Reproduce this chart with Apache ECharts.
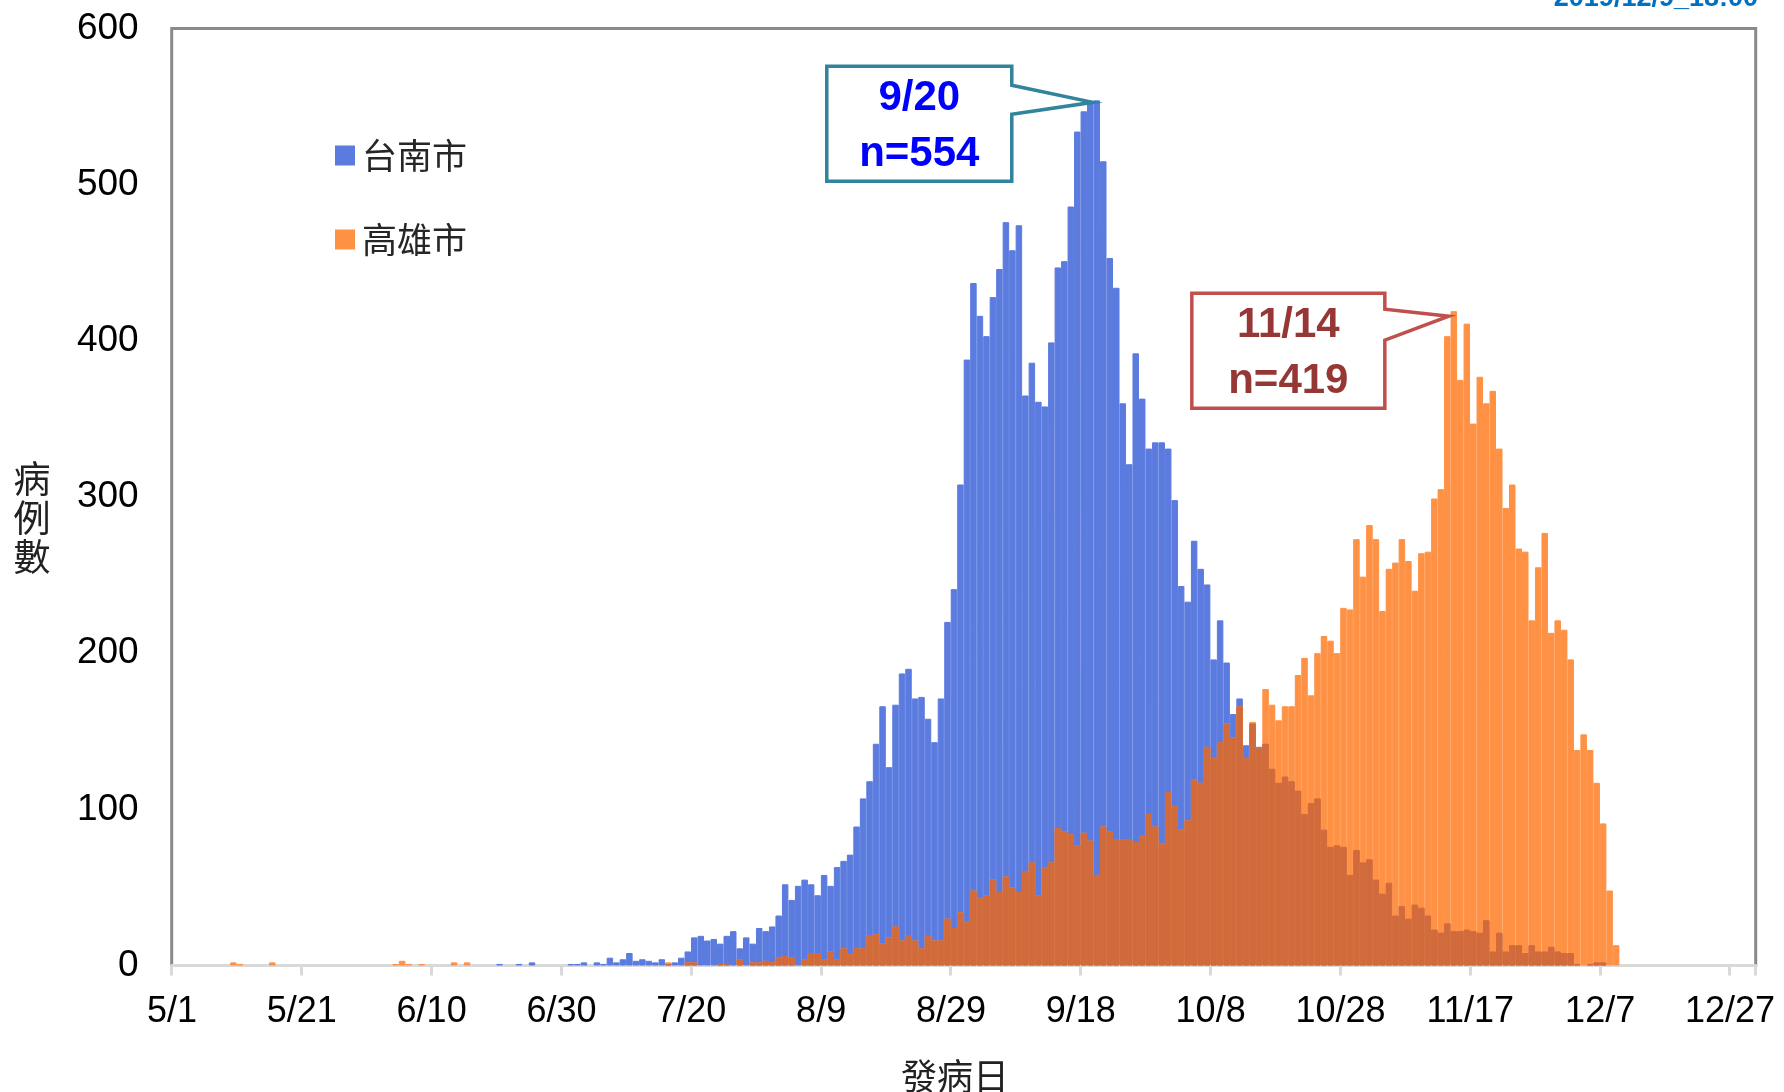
<!DOCTYPE html>
<html>
<head>
<meta charset="utf-8">
<script src="https://cdn.jsdelivr.net/npm/echarts@6/dist/echarts.min.js"></script>
<style>
html,body{margin:0;padding:0;background:#fff;}
#chart{width:1784px;height:1092px;}
</style>
</head>
<body>
<div id="chart"></div>
<script>
// ---- data ----
// axis runs day by day from 2019/5/1 to 2019/12/30
const axisStart = [2019, 5, 1];
const axisDays = 244;
const tickEvery = 20;
const seriesNames = ['台南市', '高雄市'];
const yAxisTitle = '病例數';
const xAxisTitle = '發病日';

// daily cases by onset date, starting 5/1
const tainan = [
  0,0,0,0,0,0,0,0,0,0,
  0,0,0,0,0,0,0,0,0,0,
  0,0,0,0,0,0,0,0,0,0,
  0,0,0,0,0,0,0,0,0,0,
  0,0,0,0,0,0,0,0,0,0,
  1,0,0,1,0,2,0,0,0,0,
  0,1,1,2,0,2,1,5,2,4,
  8,3,4,3,2,4,1,2,5,9,
  18,19,16,17,14,19,22,11,18,14,
  24,22,25,32,52,42,51,55,52,45,
  58,51,63,67,71,89,107,118,142,166,
  127,167,187,190,171,172,158,143,171,220,
  241,308,388,437,416,403,428,446,476,458,
  474,365,386,361,358,399,447,451,486,534,
  547,553,554,515,453,434,360,321,392,363,
  331,335,335,331,298,243,233,272,254,244,
  196,221,194,161,171,141,155,140,142,126,
  117,121,118,112,97,104,107,87,76,77,
  76,58,74,66,68,55,46,53,32,38,
  30,39,37,32,23,21,27,22,22,23,
  22,21,29,9,21,9,13,13,8,13,
  9,9,12,9,8,8,1,0,1,2,
  2,0,0
];
const kaohsiung = [
  0,0,0,0,0,0,0,0,0,2,
  1,0,0,0,0,2,0,0,0,0,
  0,0,0,0,0,0,0,0,0,0,
  0,0,0,0,1,3,1,0,1,0,
  0,0,0,2,0,2,0,0,0,0,
  0,0,0,0,0,0,0,0,0,0,
  0,0,0,0,0,0,0,0,0,0,
  0,0,0,0,0,0,2,0,0,2,
  2,0,0,0,1,1,0,4,0,2,
  2,3,2,5,6,5,0,4,8,8,
  4,9,4,11,8,11,11,19,20,14,
  18,25,16,19,16,11,19,16,16,30,
  24,34,28,48,43,45,55,47,57,50,
  47,60,66,45,63,66,88,86,84,77,
  85,80,58,89,86,81,81,81,79,83,
  97,89,78,111,102,87,93,119,117,140,
  133,143,155,146,166,133,156,139,177,167,
  157,166,166,186,197,173,200,211,208,200,
  229,228,273,249,282,273,227,254,258,273,
  259,240,264,265,299,305,403,419,375,411,
  347,377,360,368,331,293,308,267,265,221,
  255,277,213,221,215,196,138,148,138,117,
  91,48,13
];

// callouts (peak annotations)
const peakNotes = [
  {date: '9/20', series: 0, value: 554},
  {date: '11/14', series: 1, value: 419}
];
const stampText = '2019/12/9_18:00';

// ---- build categories ----
const categories = [];
for (let i = 0; i < axisDays; i++) {
  const d = new Date(axisStart[0], axisStart[1] - 1, axisStart[2] + i);
  categories.push((d.getMonth() + 1) + '/' + d.getDate());
}
const overlap = tainan.map((v, i) => Math.min(v, kaohsiung[i]));

const FONT = "'Liberation Sans', 'Noto Sans CJK TC', sans-serif";
const CJK = "'Noto Sans CJK TC', sans-serif";
const chart = echarts.init(document.getElementById('chart'), null, {renderer: 'canvas'});

function barSeries(name, data, color, z) {
  return {
    name: name, type: 'bar',
    // days without cases draw no bar at all
    data: data.map(v => (v > 0 ? v : null)),
    barWidth: '100%', barGap: '-100%', barCategoryGap: 0,
    itemStyle: {color: color, borderColor: color, borderWidth: 1},
    z: z
  };
}

const option = {
  animation: false,
  textStyle: {fontFamily: FONT},
  grid: {
    left: 171.7, right: 28.3, top: 28.5, bottom: 126.5,
    show: true, borderColor: '#8a8a8a', borderWidth: 3, backgroundColor: 'transparent'
  },
  legend: {
    data: seriesNames,
    orient: 'vertical',
    left: 330, top: 133,
    itemWidth: 18, itemHeight: 18, itemGap: 49,
    icon: 'rect',
    textStyle: {fontSize: 35, color: '#262626', fontFamily: CJK, padding: [0, 0, 0, 3]}
  },
  xAxis: {
    type: 'category',
    data: categories,
    boundaryGap: true,
    axisLine: {show: true, lineStyle: {color: '#d9d9d9', width: 3}},
    axisTick: {show: true, interval: tickEvery - 1, length: 10, lineStyle: {color: '#d9d9d9', width: 3}},
    axisLabel: {interval: tickEvery - 1, fontSize: 36, color: '#000', margin: 29, padding: [0, 6, 0, 0]},
    splitLine: {show: false}
  },
  yAxis: {
    type: 'value',
    min: 0, max: 600, interval: 100,
    axisLine: {show: false},
    axisTick: {show: false},
    splitLine: {show: false},
    axisLabel: {fontSize: 37, color: '#000', margin: 33}
  },
  series: [
    barSeries(seriesNames[0], tainan, '#5b7bdf', 2),
    barSeries(seriesNames[1], kaohsiung, '#ff9145', 3),
    barSeries('overlap', overlap, '#d16b3c', 4)
  ]
};
chart.setOption(option);

// ---- callouts anchored to peak bars ----
const noteStyles = [
  {box: [-266, -81, -36, 79], notch: [-17, 12], tipDx: -4, tipDy: 2, stroke: '#31849b', text: '#0000ff'},
  {box: [-257, -64, -23, 92], notch: [-7, 24], tipDx: -5, tipDy: 5, stroke: '#c0504d', text: '#953735'}
];
const graphics = [];
peakNotes.forEach((n, k) => {
  const idx = categories.indexOf(n.date);
  const p = chart.convertToPixel({seriesIndex: n.series}, [idx, n.value]);
  const s = noteStyles[k];
  const tx = p[0] + s.tipDx, ty = p[1] + s.tipDy;
  const L = tx + s.box[0], R = tx + s.box[1], T = ty + s.box[2], B = ty + s.box[3];
  graphics.push({
    type: 'polygon', z: 100,
    shape: {points: [[L, T], [R, T], [R, ty + s.notch[0]], [tx, ty], [R, ty + s.notch[1]], [R, B], [L, B]]},
    style: {fill: '#fff', stroke: s.stroke, lineWidth: 3.5}
  });
  graphics.push({
    type: 'text', z: 101,
    style: {
      text: n.date + '\nn=' + n.value,
      x: (L + R) / 2, y: (T + B) / 2 + 3,
      align: 'center', verticalAlign: 'middle', textAlign: 'center', textVerticalAlign: 'middle',
      font: "bold 42px 'Liberation Sans', sans-serif", lineHeight: 56, fill: s.text
    }
  });
});
// axis titles
graphics.push({
  type: 'text', z: 50,
  style: {
    text: yAxisTitle.split('').join('\n'), x: 32, y: 518,
    align: 'center', verticalAlign: 'middle', textAlign: 'center', textVerticalAlign: 'middle',
    font: "37px 'Noto Sans CJK TC', sans-serif", lineHeight: 39, fill: '#222'
  }
});
graphics.push({
  type: 'text', z: 50,
  style: {
    text: xAxisTitle, x: 955, y: 1076,
    align: 'center', verticalAlign: 'middle', textAlign: 'center', textVerticalAlign: 'middle',
    font: "36px 'Noto Sans CJK TC', sans-serif", fill: '#222'
  }
});
graphics.push({
  type: 'text', z: 101,
  style: {
    text: stampText, x: 1758, y: 12,
    align: 'right', verticalAlign: 'bottom', textAlign: 'right', textVerticalAlign: 'bottom',
    font: "bold 27px 'Liberation Sans', sans-serif", fill: '#0070c0'
  }
});
chart.setOption({graphic: graphics});
</script>
</body>
</html>
